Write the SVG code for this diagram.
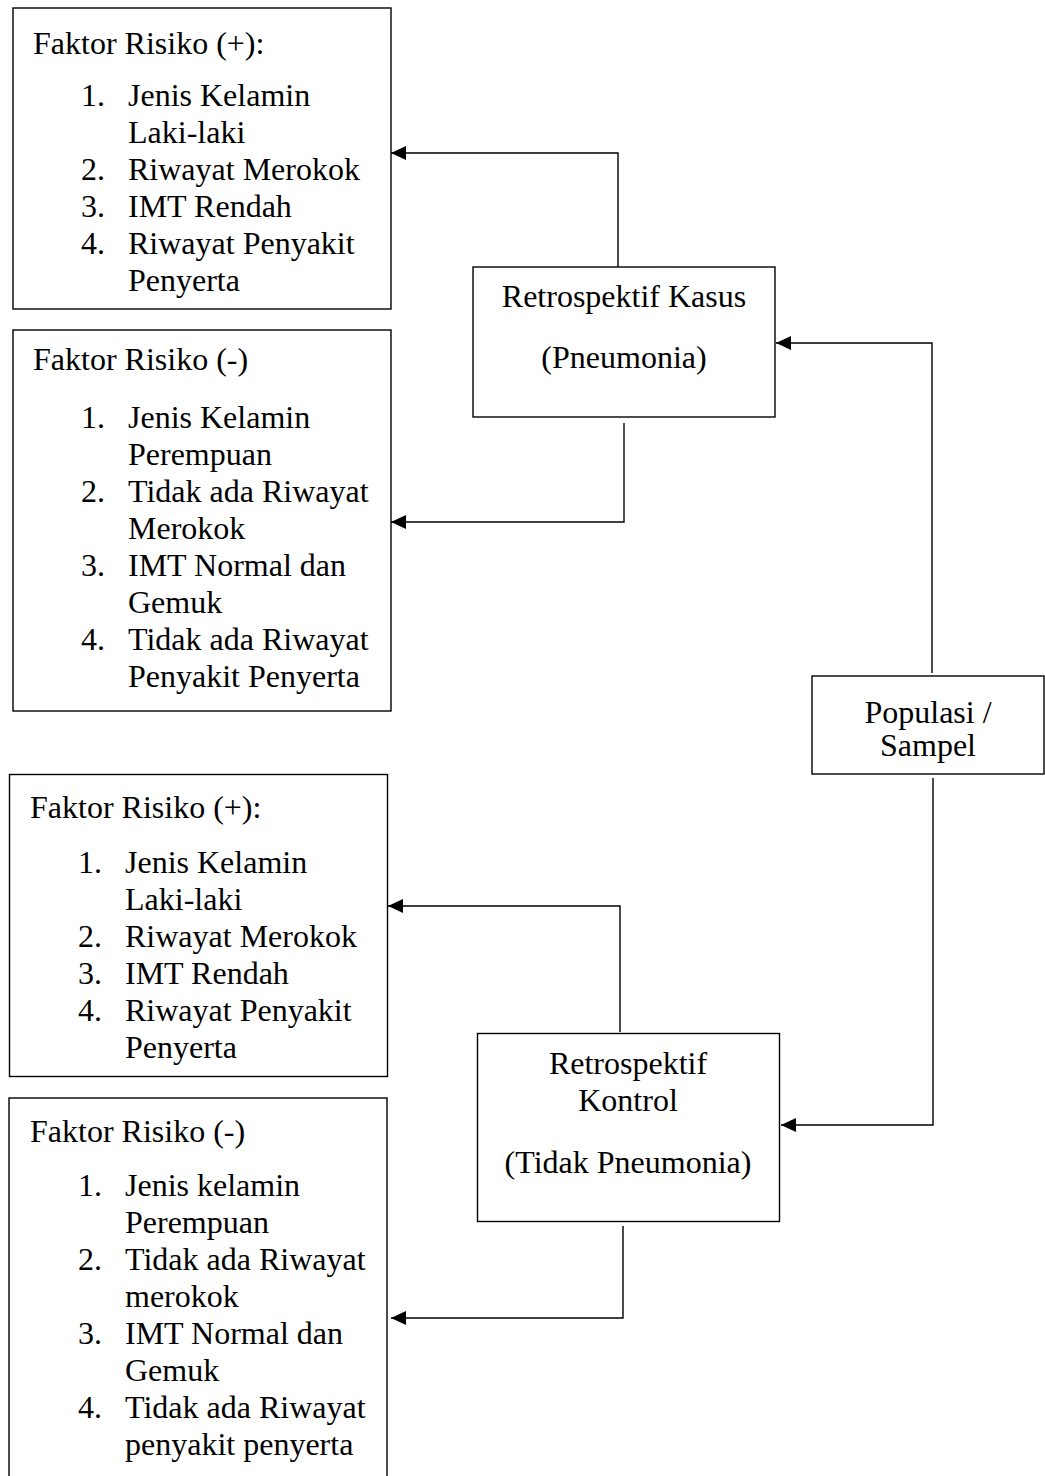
<svg xmlns="http://www.w3.org/2000/svg" width="1045" height="1476" viewBox="0 0 1045 1476">
<style>
.box{fill:#fff;stroke:#000;stroke-width:1.4}
text{font-family:"Liberation Serif","Times New Roman",serif;font-size:32px;fill:#000}
.c{text-anchor:middle}
.conn path{fill:none;stroke:#000;stroke-width:1.4}
</style>
<defs>
<marker id="arr" markerUnits="userSpaceOnUse" markerWidth="16" markerHeight="16" refX="15" refY="7" orient="auto">
<path d="M0,0 L15,7 L0,14 Z" fill="#000"/>
</marker>
</defs>
<rect width="1045" height="1476" fill="#fff"/>
<g id="faktor-plus-1">
<rect class="box" x="13" y="8" width="378" height="301"/>
<text x="33" y="54">Faktor Risiko (+):</text>
<text x="81" y="106">1.</text><text x="128" y="106">Jenis Kelamin</text>
<text x="128" y="143">Laki-laki</text>
<text x="81" y="180">2.</text><text x="128" y="180">Riwayat Merokok</text>
<text x="81" y="217">3.</text><text x="128" y="217">IMT Rendah</text>
<text x="81" y="254">4.</text><text x="128" y="254">Riwayat Penyakit</text>
<text x="128" y="291">Penyerta</text>
</g>
<g id="faktor-minus-1">
<rect class="box" x="13" y="330" width="378" height="381"/>
<text x="33" y="370">Faktor Risiko (-)</text>
<text x="81" y="428">1.</text><text x="128" y="428">Jenis Kelamin</text>
<text x="128" y="465">Perempuan</text>
<text x="81" y="502">2.</text><text x="128" y="502">Tidak ada Riwayat</text>
<text x="128" y="539">Merokok</text>
<text x="81" y="576">3.</text><text x="128" y="576">IMT Normal dan</text>
<text x="128" y="613">Gemuk</text>
<text x="81" y="650">4.</text><text x="128" y="650">Tidak ada Riwayat</text>
<text x="128" y="687">Penyakit Penyerta</text>
</g>
<g id="faktor-plus-2">
<rect class="box" x="9.5" y="774.5" width="378" height="302"/>
<text x="30" y="818">Faktor Risiko (+):</text>
<text x="78" y="873">1.</text><text x="125" y="873">Jenis Kelamin</text>
<text x="125" y="910">Laki-laki</text>
<text x="78" y="947">2.</text><text x="125" y="947">Riwayat Merokok</text>
<text x="78" y="984">3.</text><text x="125" y="984">IMT Rendah</text>
<text x="78" y="1021">4.</text><text x="125" y="1021">Riwayat Penyakit</text>
<text x="125" y="1058">Penyerta</text>
</g>
<g id="faktor-minus-2">
<rect class="box" x="9" y="1098" width="378" height="390"/>
<text x="30" y="1142">Faktor Risiko (-)</text>
<text x="78" y="1196">1.</text><text x="125" y="1196">Jenis kelamin</text>
<text x="125" y="1233">Perempuan</text>
<text x="78" y="1270">2.</text><text x="125" y="1270">Tidak ada Riwayat</text>
<text x="125" y="1307">merokok</text>
<text x="78" y="1344">3.</text><text x="125" y="1344">IMT Normal dan</text>
<text x="125" y="1381">Gemuk</text>
<text x="78" y="1418">4.</text><text x="125" y="1418">Tidak ada Riwayat</text>
<text x="125" y="1455">penyakit penyerta</text>
</g>
<g id="kasus">
<rect class="box" x="473" y="267" width="302" height="150"/>
<text class="c" x="624" y="307">Retrospektif Kasus</text>
<text class="c" x="624" y="368">(Pneumonia)</text>
</g>
<g id="populasi">
<rect class="box" x="812" y="676" width="232" height="98"/>
<text class="c" x="928" y="723">Populasi /</text>
<text class="c" x="928" y="756">Sampel</text>
</g>
<g id="kontrol">
<rect class="box" x="477.5" y="1033.5" width="302" height="188"/>
<text class="c" x="628" y="1074">Retrospektif</text>
<text class="c" x="628" y="1111">Kontrol</text>
<text class="c" x="628" y="1173">(Tidak Pneumonia)</text>
</g>
<g id="connectors" class="conn">
<path d="M618,267 V153 H391" marker-end="url(#arr)"/>
<path d="M624,423 V522 H391" marker-end="url(#arr)"/>
<path d="M932,673 V343 H776" marker-end="url(#arr)"/>
<path d="M933,778 V1125 H781" marker-end="url(#arr)"/>
<path d="M620,1032 V906 H388" marker-end="url(#arr)"/>
<path d="M623,1226 V1318 H391" marker-end="url(#arr)"/>
</g>
</svg>
